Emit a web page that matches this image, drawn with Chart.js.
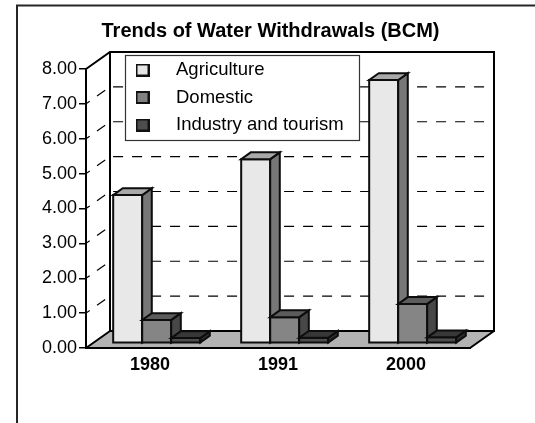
<!DOCTYPE html>
<html>
<head>
<meta charset="utf-8">
<title>Trends of Water Withdrawals (BCM)</title>
<script src="https://cdn.jsdelivr.net/npm/chart.js@4.4.1/dist/chart.umd.min.js"></script>
<style>
  html, body { margin: 0; padding: 0; background: #fff; }
  canvas { display: block; }
</style>
</head>
<body>
<canvas id="waterChart" width="535" height="423"></canvas>
<script>
// Water withdrawals, billion cubic metres
const years = ['1980', '1991', '2000'];
const agriculture = [4.25, 5.28, 7.55];
const domestic = [0.67, 0.75, 1.13];
const industry = [0.15, 0.16, 0.17];
const seriesNames = ['Agriculture', 'Domestic', 'Industry and tourism'];
const axisMin = 0;
const axisMax = 8;
const axisStep = 1;

// face colours for the 3d columns: front, top, side
const faceColors = [
    { front: '#e8e8e8', top: '#a9a9a9', side: '#777777' },
    { front: '#858585', top: '#5c5c5c', side: '#474747' },
    { front: '#4d4d4d', top: '#383838', side: '#2c2c2c' }
];
const swatchColors = ['#e6e6e6', '#808080', '#4d4d4d'];

// depth of the box (floor / back wall) and of the columns
const WALL_DX = 24, WALL_DY = -17;
const BAR_OFF_DX = 6.7, BAR_OFF_DY = -4.7;
const BAR_DX = 9.6, BAR_DY = -6.8;

const FONT = "'Liberation Sans', Arial, Helvetica, sans-serif";
Chart.defaults.font.family = FONT;
Chart.defaults.color = '#000';

// little legend squares
function makeSwatch(color) {
    const c = document.createElement('canvas');
    c.width = 14;
    c.height = 13;
    const g = c.getContext('2d');
    g.fillStyle = color;
    g.fillRect(0, 0, 14, 13);
    g.strokeStyle = '#111';
    g.lineWidth = 2;
    g.strokeRect(1, 1, 12, 11);
    return c;
}
const swatches = swatchColors.map(makeSwatch);

function poly(ctx, pts) {
    ctx.beginPath();
    ctx.moveTo(pts[0][0], pts[0][1]);
    for (let i = 1; i < pts.length; i++) ctx.lineTo(pts[i][0], pts[i][1]);
    ctx.closePath();
}

function drawColumn(ctx, x0, x1, yTop, yBase, colors) {
    // front
    ctx.fillStyle = colors.front;
    poly(ctx, [[x0, yBase], [x0, yTop], [x1, yTop], [x1, yBase]]);
    ctx.fill();
    ctx.stroke();
    // right side
    ctx.fillStyle = colors.side;
    poly(ctx, [[x1, yBase], [x1, yTop], [x1 + BAR_DX, yTop + BAR_DY], [x1 + BAR_DX, yBase + BAR_DY]]);
    ctx.fill();
    ctx.stroke();
    // top
    ctx.fillStyle = colors.top;
    poly(ctx, [[x0, yTop], [x1, yTop], [x1 + BAR_DX, yTop + BAR_DY], [x0 + BAR_DX, yTop + BAR_DY]]);
    ctx.fill();
    ctx.stroke();
}

const box3d = {
    id: 'box3d',
    afterLayout(chart) {
        // title centred on the whole frame, legend sitting on the back wall
        const t = chart.titleBlock;
        t.left = 0;
        t.right = 541;
        t.width = 541;
        const lg = chart.legend;
        lg.left = 109.25;
        lg.top = 51.75;
        lg.width = 255;
        lg.height = 95;
        lg.right = lg.left + lg.width;
        lg.bottom = lg.top + lg.height;
    },
    beforeDraw(chart) {
        const { ctx, chartArea: a } = chart;
        const y = chart.scales.y;
        const L = a.left, R = a.right, T = a.top, B = a.bottom;
        ctx.save();

        // outer frame
        ctx.strokeStyle = '#262626';
        ctx.lineWidth = 2;
        ctx.beginPath();
        ctx.moveTo(17, 423);
        ctx.lineTo(17, 5.5);
        ctx.lineTo(535, 5.5);
        ctx.stroke();

        // floor
        ctx.fillStyle = '#b3b3b3';
        poly(ctx, [[L, B], [R, B], [R + WALL_DX, B + WALL_DY], [L + WALL_DX, B + WALL_DY]]);
        ctx.fill();

        // dashed gridlines over the side wall and the back wall
        ctx.strokeStyle = '#000';
        ctx.lineWidth = 1.2;
        ctx.setLineDash([10, 9]);
        ctx.lineDashOffset = 5.5;
        for (let v = axisMin + axisStep; v < axisMax; v += axisStep) {
            const py = y.getPixelForValue(v);
            ctx.beginPath();
            ctx.moveTo(L, py);
            ctx.lineTo(L + WALL_DX, py + WALL_DY);
            ctx.lineTo(R + WALL_DX, py + WALL_DY);
            ctx.stroke();
        }
        ctx.setLineDash([]);

        // wall and floor edges
        ctx.lineWidth = 2;
        ctx.beginPath();
        ctx.moveTo(L, T);
        ctx.lineTo(L + WALL_DX, T + WALL_DY);
        ctx.lineTo(R + WALL_DX, T + WALL_DY);
        ctx.lineTo(R + WALL_DX, B + WALL_DY);
        ctx.lineTo(L + WALL_DX, B + WALL_DY);
        ctx.lineTo(L + WALL_DX, T + WALL_DY);
        ctx.moveTo(L, B);
        ctx.lineTo(L + WALL_DX, B + WALL_DY);
        ctx.moveTo(R, B);
        ctx.lineTo(R + WALL_DX, B + WALL_DY);
        ctx.stroke();

        // legend frame
        const lg = chart.legend;
        const fx = Math.round(lg.left + 16) + 0.5;
        const fy = Math.round(lg.top + 3) + 0.5;
        ctx.fillStyle = '#fff';
        ctx.fillRect(fx, fy, 234, 85);
        ctx.strokeStyle = '#333';
        ctx.lineWidth = 1.2;
        ctx.strokeRect(fx, fy, 234, 85);

        ctx.restore();
    },
    beforeDatasetsDraw(chart) {
        const ctx = chart.ctx;
        ctx.save();
        ctx.strokeStyle = '#0d0d0d';
        ctx.lineWidth = 2;
        ctx.lineJoin = 'miter';
        const metas = chart.data.datasets.map((d, i) => chart.getDatasetMeta(i));
        for (let j = 0; j < years.length; j++) {
            metas.forEach((meta, i) => {
                const bar = meta.data[j].getProps(['x', 'y', 'base', 'width'], true);
                const x0 = bar.x - bar.width / 2 + BAR_OFF_DX;
                const x1 = bar.x + bar.width / 2 + BAR_OFF_DX;
                drawColumn(ctx, x0, x1, bar.y + BAR_OFF_DY, bar.base + BAR_OFF_DY, faceColors[i]);
            });
        }
        ctx.restore();
        return false;
    }
};

new Chart(document.getElementById('waterChart'), {
    type: 'bar',
    data: {
        labels: years,
        datasets: [
            { label: seriesNames[0], data: agriculture, backgroundColor: faceColors[0].front },
            { label: seriesNames[1], data: domestic, backgroundColor: faceColors[1].front },
            { label: seriesNames[2], data: industry, backgroundColor: faceColors[2].front }
        ]
    },
    options: {
        responsive: false,
        animation: false,
        devicePixelRatio: 1,
        categoryPercentage: 0.68,
        barPercentage: 1,
        layout: { padding: { top: 19, left: 0, right: 65, bottom: 0 } },
        plugins: {
            tooltip: { enabled: false },
            title: {
                display: true,
                text: 'Trends of Water Withdrawals (BCM)',
                color: '#000',
                font: { size: 20, weight: 'bold' },
                padding: { top: 0, bottom: 26 }
            },
            legend: {
                position: 'chartArea',
                align: 'start',
                labels: {
                    color: '#000',
                    font: { size: 18.5 },
                    usePointStyle: true,
                    pointStyleWidth: 48.5,
                    boxHeight: 18.5,
                    padding: 9,
                    generateLabels: (chart) => chart.data.datasets.map((ds, i) => ({
                        text: ds.label,
                        datasetIndex: i,
                        pointStyle: swatches[i],
                        fillStyle: swatchColors[i],
                        strokeStyle: '#111',
                        lineWidth: 0,
                        fontColor: '#000',
                        hidden: false
                    }))
                }
            }
        },
        scales: {
            x: {
                grid: { display: false, drawTicks: false },
                border: { display: true, color: '#000', width: 2 },
                ticks: { padding: 6, font: { size: 18, weight: 'bold' }, color: '#000' },
                afterFit(scale) { scale.height = 75; }
            },
            y: {
                min: axisMin,
                max: axisMax,
                grid: { drawOnChartArea: false, drawTicks: true, tickLength: 7, color: '#000', lineWidth: 1.5 },
                border: { display: true, color: '#000', width: 2 },
                ticks: {
                    stepSize: axisStep,
                    padding: 2,
                    font: { size: 18 },
                    color: '#000',
                    callback: (v) => Number(v).toFixed(2)
                },
                afterFit(scale) { scale.width = 86; }
            }
        }
    },
    plugins: [box3d]
});
</script>
</body>
</html>
